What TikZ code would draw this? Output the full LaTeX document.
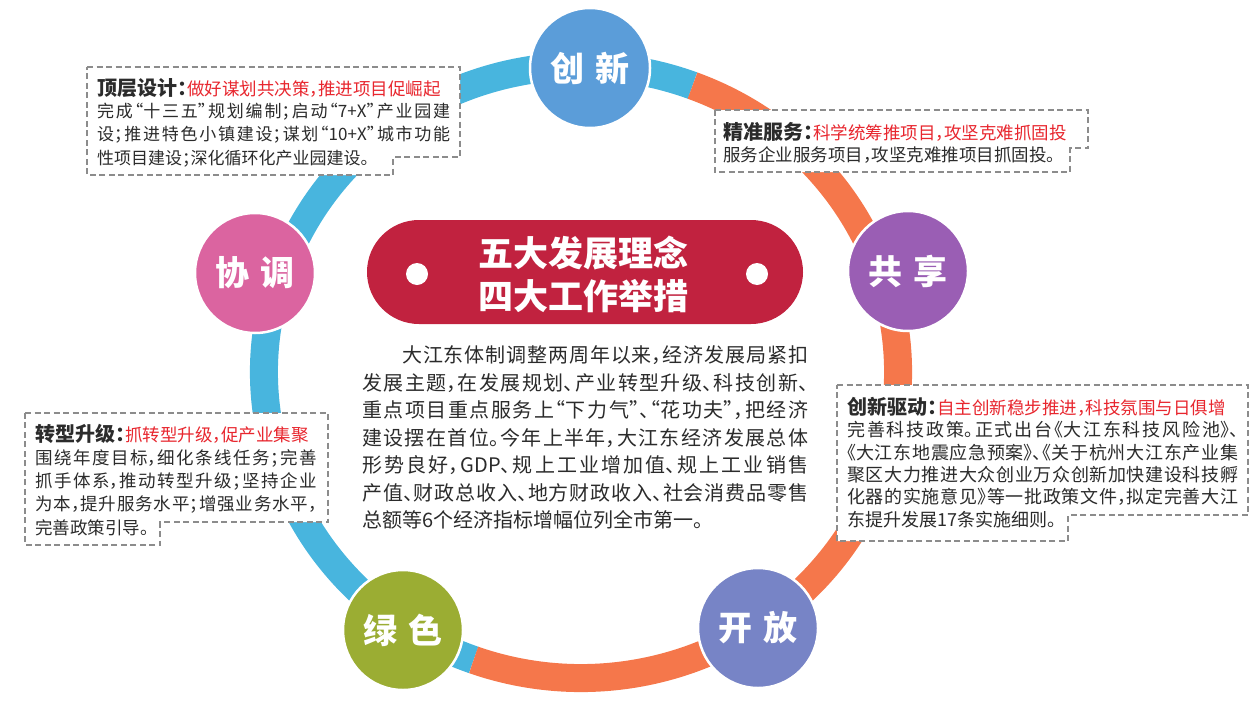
\documentclass[tikz,border=0pt]{standalone}
\usepackage{fontspec}
\usepackage{tikz}
\setmainfont{Noto Sans CJK SC}[RawFeature={+halt}]
\XeTeXlinebreaklocale "zh"
\XeTeXlinebreakskip=0pt plus 3pt
\tolerance=9999
\hbadness=10000

\definecolor{ringblue}{HTML}{48B5DE}
\definecolor{ringorange}{HTML}{F5774B}
\definecolor{dashgray}{HTML}{8C8C8C}
\definecolor{bodytext}{HTML}{2B2B2B}
\definecolor{headred}{HTML}{E8262E}
\definecolor{bannerred}{HTML}{C1223F}

% encabezado de cada recuadro: titulo en negrita y lema en rojo
\newcommand{\notehead}[2]{{\fontsize{20}{20}\selectfont\bfseries #1：}{\fontsize{17.5}{20}\selectfont\color{headred}#2}}

\begin{document}
\begin{tikzpicture}[x=1pt, y=-1pt,
							band/.style={line width=28pt},
							idea/.style={circle, draw=white, line width=2.5pt, minimum size=120pt, inner sep=0pt, text=white, font=\fontsize{34}{34}\selectfont\bfseries},
							notebox/.style={draw=dashgray, line width=1.6pt, dash pattern=on 6pt off 3.5pt, fill=white},
							headline/.style={anchor=west, inner sep=0pt, text=bodytext},
							notetext/.style={anchor=west, inner sep=0pt, align=justify, text=bodytext, font=\fontsize{17.5}{23.3}\selectfont}
							]
							\useasboundingbox (0,0) rectangle (1257,704);
							
							% Anillo
							\coordinate (ringc) at (581,372);
							\draw[band, ringblue] (ringc) ++(109.8:317 and 306) arc[start angle=109.8, end angle=290.6, x radius=317, y radius=306];
							\draw[band, ringorange] (ringc) ++(-69.4:317 and 306) arc[start angle=-69.4, end angle=109.8, x radius=317, y radius=306];
							
							% Cinco conceptos
							\node[idea, fill={rgb,255:red,91;green,157;blue,217}] (chuangxin) at (590,68) {创\hspace{12pt}新};
							\node[idea, fill={rgb,255:red,154;green,94;blue,180}] (gongxiang) at (908,271) {共\hspace{12pt}享};
							\node[idea, fill={rgb,255:red,119;green,132;blue,198}] (kaifang) at (758,628) {开\hspace{12pt}放};
							\node[idea, fill={rgb,255:red,155;green,173;blue,51}] (lvse) at (403,630) {绿\hspace{12pt}色};
							\node[idea, fill={rgb,255:red,219;green,100;blue,160}] (xietiao) at (255,273) {协\hspace{12pt}调};
							
							% Cartel central
							\node[fill=bannerred, rounded corners=52pt, minimum width=436pt, minimum height=104pt, inner sep=0pt] (banner) at (585,272) {};
							\node[text=white, align=center, inner sep=0pt, font=\fontsize{35}{43}\selectfont\bfseries] (bannertext) at (583,274.5) {五大发展理念\\四大工作举措};
							\node[circle, fill=white, minimum size=22pt, inner sep=0pt] (dotL) at (417,274) {};
							\node[circle, fill=white, minimum size=22pt, inner sep=0pt] (dotR) at (757,274) {};
							
							% Texto central
							\node[notetext, text width=446pt, font=\fontsize{20}{27.5}\selectfont] (summary) at (362,437.5) {\noindent\hspace*{40pt}大江东体制调整两周年以来，经济发展局紧扣\linebreak 发展主题，在发展规划、产业转型升级、科技创新、\linebreak 重点项目重点服务上“下力气”、“花功夫”，把经济\linebreak 建设摆在首位。今年上半年，大江东经济发展总体\linebreak 形势良好，GDP、规上工业增加值、规上工业销售\linebreak 产值、财政总收入、地方财政收入、社会消费品零售\linebreak 总额等6个经济指标增幅位列全市第一。};
							
							% Recuadros punteados
							\draw[notebox] (87,67) -- (460,67) -- (460,157) -- (393,157) -- (393,175) -- (87,175) -- cycle;
							\node[headline] (dingceng) at (97,88) {\notehead{顶层设计}{做好谋划共决策，推进项目促崛起}};
							\node[notetext, text width=353pt, font=\fontsize{17}{23.3}\selectfont] (dingcengtext) at (97,135) {\noindent 完成“十三五”规划编制；启动“7+X”产业园建\linebreak 设；推进特色小镇建设；谋划“10+X”城市功能\linebreak 性项目建设；深化循环化产业园建设。};
							
							\draw[notebox] (715,110) -- (1088,110) -- (1088,148) -- (1070,148) -- (1070,172) -- (715,172) -- cycle;
							\node[headline] (jingzhun) at (723,132) {\notehead{精准服务}{科学统筹推项目，攻坚克难抓固投}};
							\node[notetext, text width=342pt] (jingzhuntext) at (723,155) {\noindent 服务企业服务项目，攻坚克难推项目抓固投。};
							
							\draw[notebox] (25,413) -- (328,413) -- (328,522) -- (160,522) -- (160,545) -- (25,545) -- cycle;
							\node[headline] (zhuanxing) at (35,434) {\notehead{转型升级}{抓转型升级，促产业集聚}};
							\node[notetext, text width=282pt] (zhuanxingtext) at (35,492.5) {\noindent 围绕年度目标，细化条线任务；完善\linebreak 抓手体系，推动转型升级；坚持企业\linebreak 为本，提升服务水平；增强业务水平，\linebreak 完善政策引导。};
							
							\draw[notebox] (837,385) -- (1248,385) -- (1248,515) -- (1068,515) -- (1068,541) -- (837,541) -- cycle;
							\node[headline] (qudong) at (847,407) {\notehead{创新驱动}{自主创新稳步推进，科技氛围与日俱增}};
							\node[notetext, text width=391pt, font=\fontsize{18}{22.3}\selectfont] (qudongtext) at (847,474.6) {\noindent 完善科技政策。正式出台《大江东科技风险池》、\linebreak《大江东地震应急预案》、《关于杭州大江东产业集\linebreak 聚区大力推进大众创业万众创新加快建设科技孵\linebreak 化器的实施意见》等一批政策文件，拟定完善大江\linebreak 东提升发展17条实施细则。};
						\end{tikzpicture}
\end{document}
